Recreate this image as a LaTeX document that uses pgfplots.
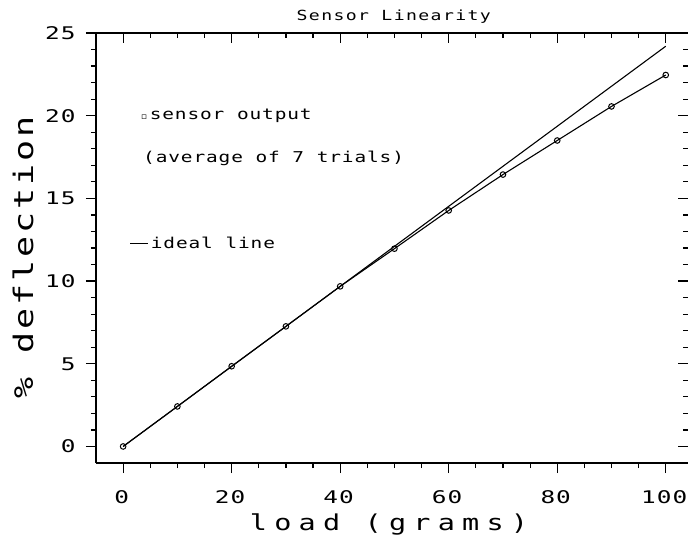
\documentclass[border=0pt]{standalone}
\usepackage{fontspec}
\usepackage{pgfplots}
\pgfplotsset{compat=1.18}

% plotter-like lettering: stretched mono font, spaced out
\newfontfamily\tickfont[FakeStretch=1.4,LetterSpace=6]{DejaVu Sans Mono}
\newfontfamily\titlefont[FakeStretch=1.3,LetterSpace=10]{DejaVu Sans Mono}
\newfontfamily\labelfont[FakeStretch=1.3,LetterSpace=33]{DejaVu Sans Mono}
\newfontfamily\ylabfont[FakeStretch=1.3,LetterSpace=11]{DejaVu Sans Mono}
\newfontfamily\notefont[FakeStretch=1.3,LetterSpace=6]{DejaVu Sans Mono}
\newfontfamily\symfont{DejaVu Sans}

\pgfplotsset{
  common/.style={
    scale only axis,
    width=592bp, height=430bp,
    xmin=-5, xmax=104.1,
    ymin=-1, ymax=25,
    xtick={0,20,...,100}, minor x tick num=3,
    ytick={0,5,...,25}, minor y tick num=4,
    major tick length=10bp, minor tick length=5bp,
    every tick/.style={black, line width=1.2bp},
    axis line style={line width=1.4bp, -},
  }
}

\begin{document}
\begin{tikzpicture}
% bottom and left: ticks outside, with labels and data
\begin{axis}[
    common,
    axis x line*=bottom, axis y line*=left,
    tick align=outside,
    /pgf/number format/assume math mode=true,
    tick label style={font=\fontsize{17.5}{20}\selectfont\tickfont},
    xticklabel style={yshift=-14bp, xshift=-1.5bp},
    yticklabel style={xshift=-7bp},
    title={\titlefont\fontsize{14}{16}\selectfont Sensor Linearity},
    title style={at={(rel axis cs:0.503,1.016)}, anchor=base},
    xlabel={\labelfont\fontsize{22}{24}\selectfont load (grams)},
    xlabel style={at={(rel axis cs:0.495,-0.156)}, anchor=base},
    ylabel={\ylabfont\fontsize{27}{29}\selectfont \% deflection},
    ylabel style={at={(rel axis cs:-0.106,0.478)}, anchor=base},
]
% ideal line
\addplot[black, line width=1.1bp] coordinates {(0,0) (100,24.2)};
% sensor output, average of 7 trials
\addplot[black, line width=1.1bp, mark=o, mark size=2.8bp,
         mark options={line width=1bp}] coordinates {
    (0,0) (10,2.42) (20,4.85) (30,7.26) (40,9.68) (50,11.96)
    (60,14.27) (70,16.44) (80,18.5) (90,20.56) (100,22.46)
};
\node[anchor=base west, inner sep=0pt, font=\notefont\fontsize{15}{17}\selectfont]
    at (axis cs:3.3,19.74) {{\symfont\fontsize{9}{10}\selectfont ▫}\,sensor output};
\node[anchor=base west, inner sep=0pt, font=\notefont\fontsize{15}{17}\selectfont]
    at (axis cs:3.66,17.16) {(average of 7 trials)};
\node[anchor=base west, inner sep=0pt, font=\notefont\fontsize{15}{17}\selectfont]
    at (axis cs:1.3,12.0) {\rule[0.3em]{18bp}{1bp}\,ideal line};
\coordinate (bl) at (rel axis cs:0,0);
\coordinate (tr) at (rel axis cs:1,1);
\end{axis}
% top and right: ticks inside, no labels, right spine off the page
\begin{axis}[
    common,
    axis x line*=top, axis y line*=right,
    tick align=inside,
    xticklabels={}, yticklabels={},
    y axis line style={draw=none},
]
\end{axis}
\pgfresetboundingbox
\path ([shift={(-96bp,-81bp)}]bl) rectangle ([shift={(0bp,33bp)}]tr);
\end{tikzpicture}
\end{document}
